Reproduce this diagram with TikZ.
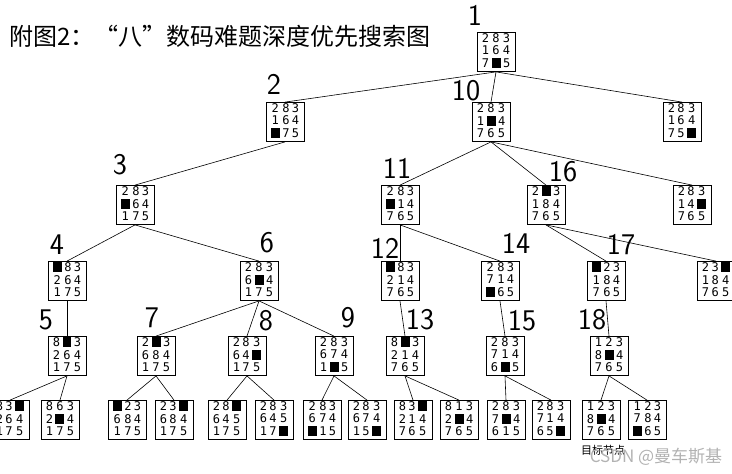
\documentclass[tikz,border=0pt]{standalone}
\usepackage{fontspec}
\newfontfamily\cjk{Noto Sans CJK SC}
\newfontfamily\digits{DejaVu Sans Mono}
\usetikzlibrary{positioning}
\tikzset{
  board/.style={draw,thick,minimum width=38pt,minimum height=39pt,inner sep=0pt,
    font=\digits\fontsize{12}{11.5}\selectfont},
  order/.style={font=\fontsize{30}{30}\selectfont\sffamily},
  link/.style={semithick}
}
\newcommand{\B}{\rule[-0.5pt]{9pt}{10pt}}
\newcommand{\brd}[3]{\begin{tabular}{@{}c@{\hspace{2.5pt}}c@{\hspace{2.5pt}}c@{}}#1\\#2\\#3\end{tabular}}
\begin{document}
\begin{tikzpicture}[x=1pt,y=-1pt]
\useasboundingbox (0,0) rectangle (732,474);
\node[anchor=west,font=\cjk\fontsize{24}{24}\selectfont] (title) at (6,36) {附图2：“八”数码难题深度优先搜索图};
% root and first level
\node[board] (n1) at (496,52) {\brd{2&8&3}{1&6&4}{7&\B&5}};
\node[board] (n2) at (285,122) {\brd{2&8&3}{1&6&4}{\B&7&5}};
\node[board] (n10) at (491,122) {\brd{2&8&3}{1&\B&4}{7&6&5}};
\node[board] (r1) at (682,122) {\brd{2&8&3}{1&6&4}{7&5&\B}};
% second level
\node[board] (n3) at (135,205) {\brd{2&8&3}{\B&6&4}{1&7&5}};
\node[board] (n11) at (400,205) {\brd{2&8&3}{\B&1&4}{7&6&5}};
\node[board] (n16) at (546,205) {\brd{2&\B&3}{1&8&4}{7&6&5}};
\node[board] (r2) at (692,205) {\brd{2&8&3}{1&4&\B}{7&6&5}};
% third level
\node[board] (n4) at (67,281) {\brd{\B&8&3}{2&6&4}{1&7&5}};
\node[board] (n6) at (259,281) {\brd{2&8&3}{6&\B&4}{1&7&5}};
\node[board] (n12) at (400,281) {\brd{\B&8&3}{2&1&4}{7&6&5}};
\node[board] (n14) at (500,281) {\brd{2&8&3}{7&1&4}{\B&6&5}};
\node[board] (n17) at (606,281) {\brd{\B&2&3}{1&8&4}{7&6&5}};
\node[board] (r3) at (716,281) {\brd{2&3&\B}{1&8&4}{7&6&5}};
% fourth level
\node[board] (n5) at (67,356) {\brd{8&\B&3}{2&6&4}{1&7&5}};
\node[board] (n7) at (156,356) {\brd{2&\B&3}{6&8&4}{1&7&5}};
\node[board] (n8) at (247,356) {\brd{2&8&3}{6&4&\B}{1&7&5}};
\node[board] (n9) at (334,356) {\brd{2&8&3}{6&7&4}{1&\B&5}};
\node[board] (n13) at (405,356) {\brd{8&\B&3}{2&1&4}{7&6&5}};
\node[board] (n15) at (505,356) {\brd{2&8&3}{7&1&4}{6&\B&5}};
\node[board] (n18) at (609,356) {\brd{1&2&3}{8&\B&4}{7&6&5}};
% leaves
\node[board] (a1) at (10,420) {\brd{8&3&\B}{2&6&4}{1&7&5}};
\node[board] (a2) at (60,420) {\brd{8&6&3}{2&\B&4}{1&7&5}};
\node[board] (b1) at (127,420) {\brd{\B&2&3}{6&8&4}{1&7&5}};
\node[board] (b2) at (174,420) {\brd{2&3&\B}{6&8&4}{1&7&5}};
\node[board] (c1) at (227,420) {\brd{2&8&\B}{6&4&5}{1&7&5}};
\node[board] (c2) at (274,420) {\brd{2&8&3}{6&4&5}{1&7&\B}};
\node[board] (d1) at (322,420) {\brd{2&8&3}{6&7&4}{\B&1&5}};
\node[board] (d2) at (367,420) {\brd{2&8&3}{6&7&4}{1&5&\B}};
\node[board] (e1) at (413,420) {\brd{8&3&\B}{2&1&4}{7&6&5}};
\node[board] (e2) at (459,420) {\brd{8&1&3}{2&\B&4}{7&6&5}};
\node[board] (f1) at (506,420) {\brd{2&8&3}{7&\B&4}{6&1&5}};
\node[board] (f2) at (551,420) {\brd{2&8&3}{7&1&4}{6&5&\B}};
\node[board] (g1) at (601,420) {\brd{1&2&3}{8&\B&4}{7&6&5}};
\node[board] (g2) at (647,420) {\brd{1&2&3}{7&8&4}{\B&6&5}};
\node[font=\cjk\fontsize{11}{11}\selectfont] (goal) at (603,450) {目标节点};
\node[font=\cjk\fontsize{17}{17}\selectfont,text=black!30] (mark) at (656,457) {CSDN @曼车斯基};
% step numbers
\node[order] (s1) at (475,15) {1};
\node[order] (s2) at (274,84) {2};
\node[order] (s10) at (466,91) {10};
\node[order] (s3) at (120,165) {3};
\node[order] (s11) at (397,168) {11};
\node[order] (s16) at (563,172) {16};
\node[order] (s4) at (57,245) {4};
\node[order] (s6) at (267,243) {6};
\node[order] (s12) at (385,248) {12};
\node[order] (s14) at (516,243) {14};
\node[order] (s17) at (621,245) {17};
\node[order] (s5) at (46,320) {5};
\node[order] (s7) at (152,318) {7};
\node[order] (s8) at (266,321) {8};
\node[order] (s9) at (348,318) {9};
\node[order] (s13) at (420,320) {13};
\node[order] (s15) at (522,321) {15};
\node[order] (s18) at (592,320) {18};
% tree edges
\foreach \p/\c in {n1/n2,n1/n10,n1/r1,n2/n3,n10/n11,n10/n16,n10/r2,
  n3/n4,n3/n6,n11/n12,n11/n14,n16/n17,n16/r3,
  n4/n5,n6/n7,n6/n8,n6/n9,n12/n13,n14/n15,n17/n18,
  n5/a1,n5/a2,n7/b1,n7/b2,n8/c1,n8/c2,n9/d1,n9/d2,
  n13/e1,n13/e2,n15/f1,n15/f2,n18/g1,n18/g2}
  \draw[link] (\p.south) -- (\c.north);
\end{tikzpicture}
\end{document}
